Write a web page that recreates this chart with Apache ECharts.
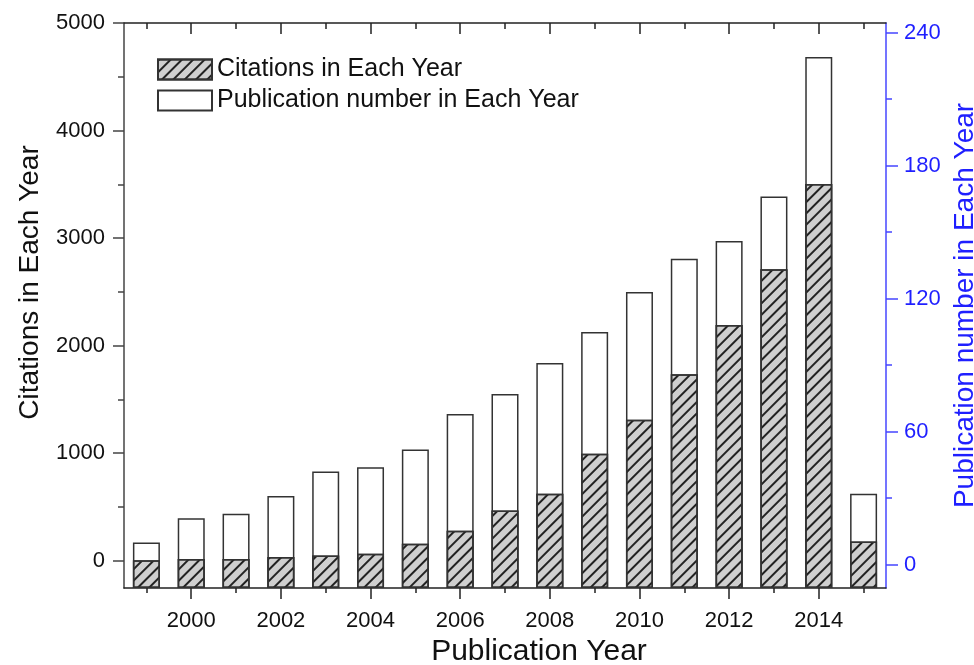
<!DOCTYPE html>
<html>
<head>
<meta charset="utf-8">
<script src="https://cdn.jsdelivr.net/npm/echarts@6/dist/echarts.min.js"></script>
<style>
html,body{margin:0;padding:0;background:#fff;}
#chart{width:974px;height:665px;}
</style>
</head>
<body>
<div id="chart"></div>
<script>
// ---- data ----
const years = ['1999','2000','2001','2002','2003','2004','2005','2006','2007','2008','2009','2010','2011','2012','2013','2014','2015'];
const citations = [3, 16, 16, 34, 48, 65, 158, 279, 467, 622, 994, 1310, 1734, 2192, 2709, 3502, 179];
const publications = [10, 21, 23, 31, 42, 44, 52, 68, 77, 91, 105, 123, 138, 146, 166, 229, 32];
const leftMajorTicks = [0, 1000, 2000, 3000, 4000, 5000];
const leftMinorTicks = [500, 1500, 2500, 3500, 4500];
const rightMajorTicks = [0, 60, 120, 180, 240];
const rightMinorTicks = [30, 90, 150, 210];
const leftRange = [-254, 5000];
const rightRange = [-10.5, 244.3];

const FONT = 'Liberation Sans, Arial, Helvetica, sans-serif';
const BLACK = '#222';
const BLUE = '#1f1fff';
const BLUE_LINE = '#4646ff';
const plain = v => String(v);

const chart = echarts.init(document.getElementById('chart'), null, {renderer: 'canvas'});

function xAx(pos, len, inside, evenOnly, showLine, showLabel, extra) {
  return Object.assign({
    type: 'category', data: years, position: pos, boundaryGap: true,
    axisLine: {show: showLine, onZero: false, lineStyle: {color: BLACK, width: 1.5}},
    axisTick: {show: true, inside: inside, length: len, alignWithLabel: true,
      interval: evenOnly ? (i => i % 2 === 1) : 0,
      lineStyle: {color: BLACK, width: 1.5}},
    axisLabel: {show: showLabel},
    splitLine: {show: false}
  }, extra || {});
}

const option = {
  animation: false,
  backgroundColor: '#fff',
  textStyle: {fontFamily: FONT},
  grid: {left: 124, right: 88, top: 23, bottom: 77, containLabel: false, outerBoundsMode: 'none'},
  legend: {
    orient: 'vertical', left: 152, top: 52, icon: 'rect',
    itemWidth: 54, itemHeight: 20, itemGap: 6,
    textStyle: {fontFamily: FONT, fontSize: 25, color: '#111'},
    data: ['Citations in Each Year', 'Publication number in Each Year']
  },
  xAxis: [
    xAx('bottom', 5, false, false, true, true, {
      axisLabel: {show: true, interval: i => i % 2 === 1, fontSize: 22, color: '#111', fontFamily: FONT, margin: 22},
      name: 'Publication Year', nameLocation: 'middle', nameGap: 44,
      nameTextStyle: {fontSize: 30, color: '#111', fontFamily: FONT, padding: [0, 0, 0, 68]}
    }),
    xAx('bottom', 11, false, true, false, false),
    xAx('top', 6, true, false, true, false),
    xAx('top', 11, true, true, false, false)
  ],
  yAxis: [
    {
      type: 'value', position: 'left', min: leftRange[0], max: leftRange[1], startValue: leftRange[0],
      axisLine: {show: true, onZero: false, lineStyle: {color: '#444', width: 1.5}},
      axisTick: {show: true, length: 11, customValues: leftMajorTicks, lineStyle: {color: '#444', width: 1.5}},
      axisLabel: {show: true, customValues: leftMajorTicks, formatter: plain, fontSize: 22, color: '#111', fontFamily: FONT, margin: 19},
      splitLine: {show: false},
      name: 'Citations in Each Year', nameLocation: 'middle', nameGap: 80,
      nameTextStyle: {fontSize: 28, color: '#111', fontFamily: FONT, padding: [0, 0, 0, 46]}
    },
    {
      type: 'value', position: 'right', min: rightRange[0], max: rightRange[1], startValue: rightRange[0],
      axisLine: {show: true, onZero: false, lineStyle: {color: BLUE_LINE, width: 1.5}},
      axisTick: {show: true, length: 12, customValues: rightMajorTicks, lineStyle: {color: BLUE_LINE, width: 1.5}},
      axisLabel: {show: true, customValues: rightMajorTicks, formatter: plain, fontSize: 22, color: BLUE, fontFamily: FONT, margin: 18},
      splitLine: {show: false},
      name: 'Publication number in Each Year', nameLocation: 'middle', nameGap: 51,
      nameTextStyle: {fontSize: 28, color: BLUE, fontFamily: FONT}
    },
    {
      type: 'value', position: 'left', min: leftRange[0], max: leftRange[1],
      axisLine: {show: false, onZero: false},
      axisTick: {show: true, length: 6, customValues: leftMinorTicks, lineStyle: {color: '#444', width: 1.5}},
      axisLabel: {show: false}, splitLine: {show: false}
    },
    {
      type: 'value', position: 'right', min: rightRange[0], max: rightRange[1],
      axisLine: {show: false, onZero: false},
      axisTick: {show: true, length: 6, customValues: rightMinorTicks, lineStyle: {color: BLUE_LINE, width: 1.5}},
      axisLabel: {show: false}, splitLine: {show: false}
    }
  ],
  series: [
    {
      name: 'Publication number in Each Year', type: 'bar', xAxisIndex: 0, yAxisIndex: 1,
      data: publications, barWidth: 27, barGap: '-100%',
      itemStyle: {color: '#fff', borderColor: '#333', borderWidth: 1.5}
    },
    {
      name: 'Citations in Each Year', type: 'bar', xAxisIndex: 0, yAxisIndex: 0,
      data: citations, barWidth: 27, barGap: '-100%',
      itemStyle: {
        color: '#cfcfcf', borderColor: '#333', borderWidth: 1.5,
        decal: {symbol: 'rect', symbolSize: 1, color: '#222', dashArrayX: [1, 0], dashArrayY: [1.2, 5.2], rotation: -Math.PI / 4}
      }
    }
  ]
};
chart.setOption(option);
</script>
</body>
</html>
